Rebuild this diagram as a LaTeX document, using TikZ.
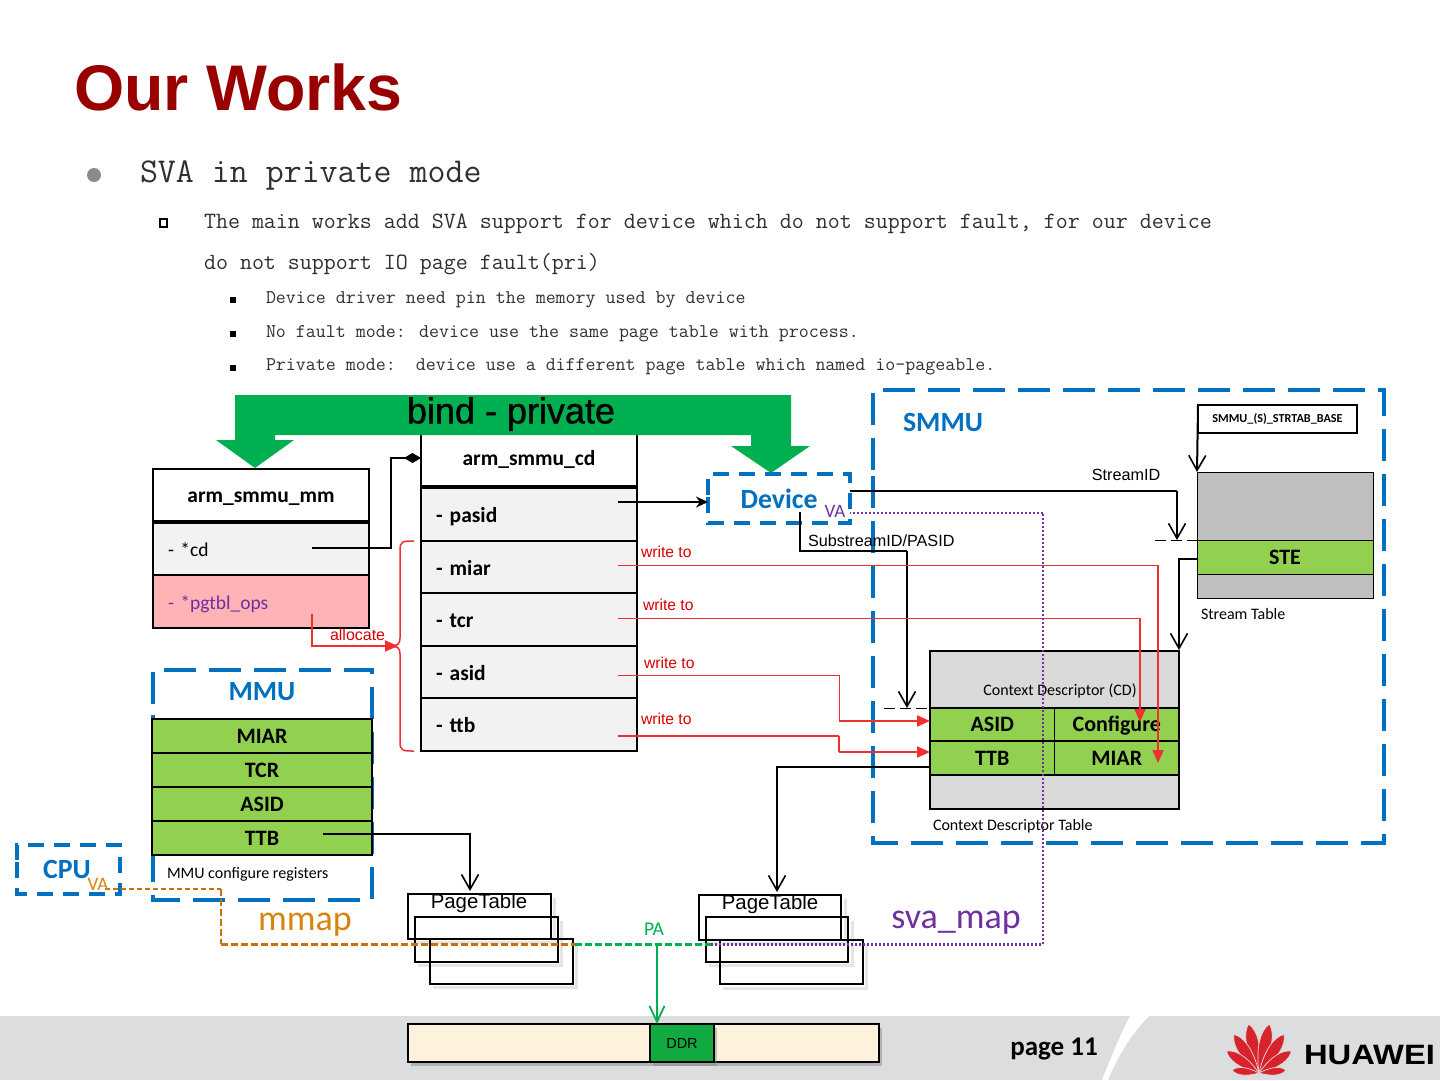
\documentclass[tikz,border=0pt]{standalone}
\usepackage{fontspec}
\setmainfont{Carlito}
\newfontfamily\arial{Liberation Sans}
\newfontfamily\arialfb[FakeBold=1.2]{Liberation Sans}
\usetikzlibrary{arrows.meta,shadows,positioning}
\definecolor{maroonT}{HTML}{990000}
\definecolor{huablue}{HTML}{0070C0}
\definecolor{leaf}{HTML}{92D050}
\definecolor{bindgreen}{HTML}{00B050}
\definecolor{rowgray}{HTML}{F2F2F2}
\definecolor{pinkrow}{HTML}{FFB3B7}
\definecolor{tablegray}{HTML}{BFBFBF}
\definecolor{cdgray}{HTML}{D9D9D9}
\definecolor{redline}{HTML}{F03030}
\definecolor{purp}{HTML}{7030A0}
\definecolor{orangeline}{HTML}{C9700F}
\definecolor{orangetext}{HTML}{D9840F}
\definecolor{footerbg}{HTML}{DCDDDE}
\definecolor{ddrbg}{HTML}{FFF2DC}
\definecolor{ddrgreen}{HTML}{10AA40}
\definecolor{logored}{HTML}{D8232A}
\definecolor{bodytext}{HTML}{303030}
\tikzset{
  x=1pt,y=-1pt,
  plain/.style={inner sep=0pt,outer sep=0pt},
  cell/.style={plain,draw=black,anchor=north west,align=center},
  leafcell/.style={cell,line width=1.2pt,fill=leaf,text height=15pt,text depth=1pt,font=\fontsize{22}{22}\selectfont\bfseries},
  rowl/.style={draw=black,anchor=north west,outer sep=0pt,inner ysep=0pt,inner xsep=15pt,text width=186pt,align=left,text height=16pt,text depth=0pt},
  cdrow/.style={rowl,line width=1.2pt,fill=rowgray,font=\fontsize{21.5}{21.5}\selectfont\bfseries},
  dashbox/.style={draw=huablue,line width=4pt,dash pattern=on 32pt off 13pt},
  dashsmall/.style={draw=huablue,line width=4pt,dash pattern=on 16pt off 10pt},
  blueb/.style={plain,text=huablue,font=\fontsize{27.8}{27.8}\selectfont\bfseries},
  bmono/.style={plain,anchor=base west,text=bodytext},
  arl/.style={plain,font=\fontsize{16.2}{16.2}\selectfont\arial},
  rtxt/.style={plain,text=red!85!black,font=\fontsize{15.7}{15.7}\selectfont\arial},
  small/.style={plain,font=\fontsize{16}{16}\selectfont},
  barb/.style={-{Straight Barb[length=15pt,width=17pt,line width=1.6pt]}},
  redtip/.style={-{Triangle[length=13pt,width=11pt]}},
  ptbox/.style={plain,draw=black,anchor=north west,minimum width=143pt,minimum height=45pt},
  shad/.style={draw=black,opacity=.1,line width=3pt},
}
\begin{document}
\begin{tikzpicture}
\useasboundingbox (0,0) rectangle (1440,1080);
\fill[white] (0,0) rectangle (1440,1080);
% footer
\fill[footerbg] (0,1016) rectangle (1440,1080);
\fill[white] (1130,1016) -- (1149,1016) .. controls (1130,1035) and (1116,1060) .. (1108,1080) -- (1102,1080) .. controls (1110,1060) and (1120,1035) .. (1130,1016) -- cycle;
\node[plain,font=\fontsize{27}{27}\selectfont\bfseries,anchor=center] (pagenum) at (1054,1049) {page 11};
\foreach \ang/\len/\w in {12/50/9,-12/50/9,33/46/8.5,-33/46/8.5,56/39/7.5,-56/39/7.5,84/27/5.5,-84/27/5.5}{
  \filldraw[fill=logored,draw=footerbg,line width=.7pt,rotate around={\ang:(1259,1073)}] (1259,1073) .. controls (1259-\w,1073-.5*\len) and (1259-.8*\w,1073-.85*\len) .. (1259,1073-\len) .. controls (1259+.8*\w,1073-.85*\len) and (1259+\w,1073-.5*\len) .. (1259,1073) -- cycle;
}
\node[plain,anchor=base west] (huawei) at (1304,1064) {\scalebox{1.17}[1]{\fontsize{28}{28}\selectfont\arial\bfseries HUAWEI}};
% title and text
\node[plain,anchor=base west,text=maroonT,font=\fontsize{64.5}{65}\selectfont\arial\bfseries] (title) at (74,110) {Our Works};
\fill[gray!90] (94,175) circle (7);
\node[bmono,font=\fontsize{34.9}{35}\selectfont\ttfamily] (l1) at (140,182) {SVA in private mode};
\draw[black,line width=2pt] (160,219) rectangle (167,227);
\node[bmono,font=\fontsize{23.3}{23}\selectfont\ttfamily] (l2) at (204,228) {The main works add SVA support for device which do not support fault, for our device};
\node[bmono,font=\fontsize{23.3}{23}\selectfont\ttfamily] (l3) at (204,269) {do not support IO page fault(pri)};
\fill[black] (230,297) rectangle (236,303);
\fill[black] (230,331) rectangle (236,337);
\fill[black] (230,365) rectangle (236,371);
\node[bmono,font=\fontsize{19.4}{19}\selectfont\ttfamily] (l4) at (266,303) {Device driver need pin the memory used by device};
\node[bmono,font=\fontsize{19.4}{19}\selectfont\ttfamily] (l5) at (266,337) {No fault mode: device use the same page table with process.};
\node[bmono,font=\fontsize{19.4}{19}\selectfont\ttfamily] (l6) at (266,370) {Private mode:\ \ device use a different page table which named io-pageable.};
% arm_smmu_mm
\node[cell,line width=2pt,fill=white,minimum width=216pt,minimum height=53pt,text height=15pt,text depth=2pt,font=\fontsize{21.5}{21.5}\selectfont\bfseries] (mmhead) at (153,469) {arm\_smmu\_mm};
\node[rowl,line width=2pt,fill=rowgray,minimum height=53pt,text height=15pt,font=\fontsize{19.5}{19.5}\selectfont] (mmcd) at (153,522) {- *cd};
\node[rowl,line width=1.5pt,fill=pinkrow,minimum height=53pt,text height=15pt,text=purp,font=\fontsize{19.5}{19.5}\selectfont] (mmpg) at (153,575) {- *pgtbl\_ops};
\draw[line width=3.5pt] (mmhead.south west) -- (mmhead.south east);
% arm_smmu_cd
\node[cell,line width=1.2pt,fill=white,minimum width=216pt,minimum height=53pt,text height=13pt,text depth=4pt,font=\fontsize{21.5}{21.5}\selectfont\bfseries] (cdhead) at (421,434) {arm\_smmu\_cd};
\node[cdrow,minimum height=54pt] (cdpasid) at (421,487) {- pasid};
\node[cdrow,minimum height=52pt] (cdmiar) at (421,541) {- miar};
\node[cdrow,minimum height=53pt] (cdtcr) at (421,593) {- tcr};
\node[cdrow,minimum height=52pt] (cdasid) at (421,646) {- asid};
\node[cdrow,minimum height=53pt] (cdttb) at (421,698) {- ttb};
\draw[line width=4pt] (cdhead.south west) -- (cdhead.south east);
% banner
\fill[bindgreen] (235,395) -- (791,395) -- (791,446) -- (810,446) -- (771,473) -- (731,446) -- (751,446) -- (751,435) -- (275,435) -- (275,440) -- (294,440) -- (255,468) -- (216,440) -- (235,440) -- cycle;
\node[plain,font=\fontsize{36}{36}\selectfont\arialfb] (bind) at (511,414) {bind - private};
% MMU
\draw[dashbox] (153,704) -- (153,670) -- (372,670) -- (372,900) -- (153,900) -- (153,704);
\node[blueb] (mmutxt) at (262,692) {MMU};
\node[leafcell,minimum width=220pt,minimum height=34pt] (rmiar) at (152,719) {MIAR};
\node[leafcell,minimum width=220pt,minimum height=34pt] (rtcr) at (152,753) {TCR};
\node[leafcell,minimum width=220pt,minimum height=34pt] (rasid) at (152,787) {ASID};
\node[leafcell,minimum width=220pt,minimum height=34pt] (rttb) at (152,821) {TTB};
\node[small,anchor=west] (mmureg) at (167,874) {MMU configure registers};
% CPU
\draw[dashsmall] (17,860) -- (17,845) -- (120,845) -- (120,894) -- (17,894) -- (17,860);
\node[blueb] (cputxt) at (67,869) {CPU};
% SMMU
\draw[dashbox] (873,470) -- (873,390) -- (1384,390) -- (1384,843) -- (873,843) -- (873,470);
\node[blueb,anchor=center] (smmutxt) at (943,422) {SMMU};
\node[cell,line width=1.2pt,fill=white,minimum width=159pt,minimum height=28pt,font=\fontsize{12.2}{12.2}\selectfont\bfseries] (strtab) at (1198,405) {SMMU\_(S)\_STRTAB\_BASE};
% Stream table
\node[cell,line width=1pt,fill=tablegray,minimum width=176pt,minimum height=126pt] (stream) at (1197,472) {};
\node[leafcell,line width=1pt,minimum width=176pt,minimum height=34pt] (ste) at (1197,540) {STE};
\node[small,anchor=west] (streamtxt) at (1201,614) {Stream Table};
% CD table
\node[cell,line width=1.5pt,fill=cdgray,minimum width=249pt,minimum height=158pt] (cdtab) at (930,651) {};
\node[leafcell,minimum width=124.5pt,minimum height=33pt] (casid) at (930,708) {ASID};
\node[leafcell,minimum width=124.5pt,minimum height=33pt] (cconf) at (1054.5,708) {Configure};
\node[leafcell,minimum width=124.5pt,minimum height=34pt] (cttb) at (930,741) {TTB};
\node[leafcell,minimum width=124.5pt,minimum height=34pt] (cmiar) at (1054.5,741) {MIAR};
\draw[line width=2pt] (casid.south west) -- (cconf.south east);
\node[small] (cdtxt) at (1060,691) {Context Descriptor (CD)};
\node[small,anchor=west] (cdttxt) at (933,826) {Context Descriptor Table};
% Device
\draw[dashsmall] (708,495) -- (708,474) -- (850,474) -- (850,523) -- (708,523) -- (708,495);
\node[blueb] (devtxt) at (779,499) {Device};
% connector anchors
\coordinate (cdfrom) at (312,548);
\coordinate (cdelbow) at (391,548);
\coordinate (cdup) at (391,458);
\coordinate (cdhit) at (421,458);
\coordinate (allocfrom) at (312,614);
\coordinate (braceTip) at (398,646);
\coordinate (pasidfrom) at (618,502);
\coordinate (devin) at (708,502);
\coordinate (miarfrom) at (618,565);
\coordinate (tcrfrom) at (618,618);
\coordinate (asidfrom) at (618,675);
\coordinate (ttbfrom) at (618,736);
\coordinate (streamfrom) at (850,491);
\coordinate (stemark) at (1177,540);
\coordinate (subfrom) at (800,512);
\coordinate (submark) at (907,708);
\coordinate (stefrom) at (1197,559);
\coordinate (cdtop) at (1179,650);
\coordinate (ttbcd) at (930,767);
\coordinate (ttbreg) at (323,834);
\coordinate (vafrom) at (105,889);
\coordinate (pajoin) at (575,944);
\coordinate (svajoin) at (711,944);
\coordinate (vadev) at (850,513);
\coordinate (patap) at (657,944);
% page tables
\foreach \xx/\yy in {408/894,415/917,430/939,699/895,706/917,720/940}{
  \draw[shad] (\xx+3,\yy+45+3) -- (\xx+146,\yy+45+3) -- (\xx+146,\yy+4);
}
\node[ptbox,line width=2pt] (pa1) at (408,894) {};
\node[ptbox,line width=2pt] (pa2) at (415,917) {};
\node[ptbox,line width=1.2pt] (pa3) at (430,939) {};
\node[ptbox,line width=2pt,minimum width=142pt] (pb1) at (699,895) {};
\node[ptbox,line width=2pt,minimum width=142pt] (pb2) at (706,917) {};
\node[ptbox,line width=1.2pt,minimum width=143pt,minimum height=44pt] (pb3) at (720,940) {};
\node[plain,font=\fontsize{20.4}{20.4}\selectfont\arial] (patxt) at (479,903) {PageTable};
\node[plain,font=\fontsize{20.4}{20.4}\selectfont\arial] (pbtxt) at (770,904) {PageTable};
% DDR
\node[cell,line width=2pt,fill=ddrbg,minimum width=471pt,minimum height=38pt,drop shadow={shadow xshift=3pt,shadow yshift=-4pt,opacity=.45}] (ddrbar) at (408,1024) {};
\node[cell,line width=1.2pt,fill=ddrgreen,minimum width=64pt,minimum height=38pt,font=\fontsize{14.5}{14.5}\selectfont\arial,drop shadow={shadow xshift=3pt,shadow yshift=-4pt,opacity=.45}] (ddr) at (650,1024) {DDR};
% black connectors
\draw[line width=2pt,-{Diamond[length=17pt,width=10pt]}] (cdfrom) -- (cdelbow) -- (cdup) -- (cdhit);
\draw[line width=2pt,-{Stealth[length=12pt,width=11pt]}] (pasidfrom) -- (devin);
\draw[line width=1.2pt] (streamfrom) -- (streamfrom -| stemark);
\draw[line width=2pt,barb] (streamfrom -| stemark) -- (stemark);
\draw[line width=1pt,dash pattern=on 11pt off 5pt] (1155,540) -- (ste.north west);
\draw[line width=1.2pt] (subfrom) -- (800,551) -- (907,551);
\draw[line width=2pt,barb] (907,551) -- (submark);
\draw[line width=1pt,dash pattern=on 11pt off 5pt] (884,708) -- (casid.north west);
\draw[line width=2pt,barb] (strtab.north west) -- (stream.north west);
\draw[line width=1.5pt,barb] (stefrom) -- (1179,559) -- (cdtop);
\draw[line width=2pt,barb] (ttbcd) -- (777,767) -- (777,892);
\draw[line width=1.2pt,barb] (ttbreg) -- (470,834) -- (470,891);
% red connectors
\draw[redline,line width=.9pt] (miarfrom) -- (1158,565);
\draw[redline,line width=2pt,redtip] (1158,565) -- (1158,763);
\draw[redline,line width=.9pt] (tcrfrom) -- (1140,618);
\draw[redline,line width=2pt,redtip] (1140,618) -- (1140,722);
\draw[redline,line width=.9pt] (asidfrom) -- (839,675) -- (839,721);
\draw[redline,line width=2pt,redtip] (839,721) -- (casid.west |- 0,721);
\draw[redline,line width=2pt] (ttbfrom) -- (839,736);
\draw[redline,line width=1.2pt] (839,736) -- (839,752);
\draw[redline,line width=2pt,redtip] (839,752) -- (cttb.west |- 0,752);
\draw[redline,line width=1.5pt] (414,541) .. controls (403,541) and (400,541) .. (400,550) -- (400,638) .. controls (400,644) and (398,646) .. (389,646) .. controls (398,646) and (400,648) .. (400,654) -- (400,742) .. controls (400,751) and (403,751) .. (414,751);
\draw[redline,line width=1.5pt,redtip] (allocfrom) -- (312,646) -- (braceTip);
\node[plain,text=red!85!black,font=\fontsize{16}{16}\selectfont\arial,anchor=west] (alloctxt) at (330,635) {allocate};
\node[rtxt,anchor=west] (w1) at (641,552) {write to};
\node[rtxt,anchor=west] (w2) at (643,605) {write to};
\node[rtxt,anchor=west] (w3) at (644,663) {write to};
\node[rtxt,anchor=west] (w4) at (641,719) {write to};
\node[arl,anchor=center] (sidtxt) at (1126,475) {StreamID};
\node[arl,anchor=west] (subtxt) at (808,541) {SubstreamID/PASID};
% mapping lines
\draw[orangeline,line width=1.5pt,dash pattern=on 5pt off 3pt] (vafrom) -- (221,889);
\draw[orangeline,line width=1.2pt,dash pattern=on 7pt off 3pt] (221,889) -- (221,944);
\draw[orangeline,line width=3pt,dash pattern=on 7pt off 3pt] (221,944) -- (pajoin);
\draw[bindgreen,line width=3pt,dash pattern=on 7pt off 3pt] (pajoin) -- (svajoin);
\draw[purp,line width=3pt,dash pattern=on 2pt off 2pt] (svajoin) -- (1043,944);
\draw[purp,line width=1.5pt,dash pattern=on 2pt off 2pt] (1043,944) -- (1043,513);
\draw[purp,line width=2.5pt,dash pattern=on 2pt off 2pt] (1043,513) -- (vadev);
\draw[bindgreen,line width=2.5pt,-{Straight Barb[length=16pt,width=15pt,line width=1.8pt]}] (patap) -- (ddr.north west -| patap);
\node[plain,text=orangetext,font=\fontsize{19}{19}\selectfont] (vacpu) at (98,884) {VA};
\node[plain,text=purp,font=\fontsize{19}{19}\selectfont] (vadevt) at (835,511) {VA};
\node[plain,text=bindgreen,font=\fontsize{19.5}{19.5}\selectfont] (patext) at (654,929) {PA};
\node[plain,text=orangetext,font=\fontsize{36}{36}\selectfont] (mmap) at (305,925) {mmap};
\node[plain,text=purp,font=\fontsize{36}{36}\selectfont] (svamap) at (956,923) {sva\_map};
\end{tikzpicture}
\end{document}
